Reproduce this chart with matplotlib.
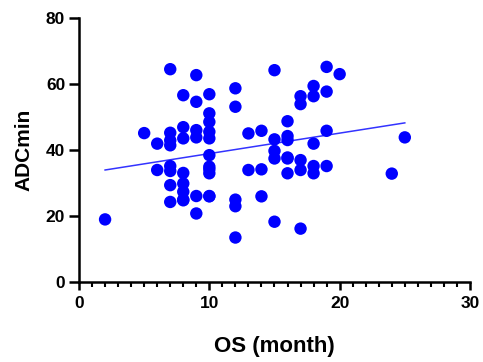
import numpy as np
import matplotlib
matplotlib.use("Agg")
import matplotlib.pyplot as plt
from matplotlib.ticker import MultipleLocator

plt.rcParams['font.family'] = ['Liberation Sans', 'DejaVu Sans']

# survival (month) vs ADCmin
os_month = [2, 5, 6, 6,
            7, 7, 7, 7, 7, 7, 7, 7,
            8, 8, 8, 8, 8, 8, 8, 8,
            9, 9, 9, 9, 9, 9,
            10, 10, 10, 10, 10, 10, 10, 10, 10, 10, 10,
            12, 12, 12, 12, 12,
            13, 13, 14, 14, 14,
            15, 15, 15, 15, 15,
            16, 16, 16, 16, 16, 16,
            17, 17, 17, 17, 17,
            18, 18, 18, 18, 18,
            19, 19, 19, 19,
            20, 24, 25]
adc_min = [19.0, 45.2, 42.0, 34.0,
           64.6, 45.3, 43.0, 41.5, 35.2, 33.7, 29.4, 24.3,
           56.7, 47.0, 43.6, 33.1, 29.9, 27.4, 25.0, 24.8,
           62.8, 54.7, 46.1, 43.9, 26.1, 20.8,
           57.0, 51.2, 48.6, 45.6, 43.6, 38.5, 34.2, 33.0, 26.1, 35.0, 26.0,
           58.8, 53.2, 25.0, 23.0, 13.5,
           45.1, 34.0, 45.9, 34.2, 26.0,
           64.3, 43.3, 39.8, 37.5, 18.3,
           48.8, 44.3, 43.1, 37.5, 33.0, 37.8,
           56.4, 54.0, 37.0, 34.0, 16.2,
           59.5, 56.4, 42.0, 35.2, 33.0,
           65.3, 57.8, 45.9, 35.2,
           63.1, 32.9, 43.9]

# regression line as drawn in the figure
fit_x = [2, 25]
fit_y = [34.0, 48.3]

fig = plt.figure(figsize=(4.83, 3.62), dpi=100)
ax = fig.add_axes([0.1636, 0.221, 0.8094, 0.728])

ax.scatter(os_month, adc_min, s=80, color='#0000ff', edgecolors='none', zorder=3, clip_on=False)
ax.plot(fit_x, fit_y, color='#3333ff', lw=1.1, zorder=2)

ax.set_xlim(0, 30)
ax.set_ylim(0, 80)
ax.xaxis.set_major_locator(MultipleLocator(10))
ax.xaxis.set_minor_locator(MultipleLocator(1))
ax.yaxis.set_major_locator(MultipleLocator(20))

for s in ['top', 'right']:
    ax.spines[s].set_visible(False)
for s in ['left', 'bottom']:
    ax.spines[s].set_linewidth(1.8)

ax.tick_params(axis='y', which='major', width=1.8, length=7, labelsize=12.5, pad=3)
ax.tick_params(axis='x', which='major', width=1.8, length=6, labelsize=12.5, pad=4)
ax.tick_params(axis='x', which='minor', width=1.5, length=3.5)
for lbl in ax.get_xticklabels() + ax.get_yticklabels():
    lbl.set_fontweight('bold')

ax.set_xlabel('OS (month)', fontsize=16, fontweight='bold', labelpad=18)
ax.set_ylabel('ADCmin', fontsize=15, fontweight='bold', labelpad=9)

fig.savefig('out.png', dpi=100)
